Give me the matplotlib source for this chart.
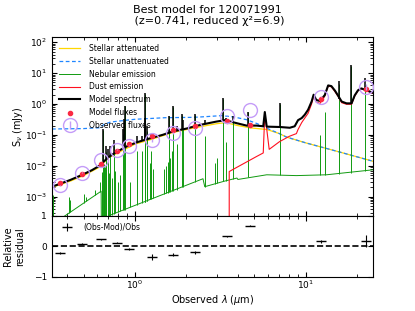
import matplotlib
matplotlib.use("Agg")
import matplotlib.pyplot as plt
import numpy as np

# photometric points (observed frame, micron / mJy)
filter_wl = [0.364, 0.488, 0.636, 0.78, 0.92, 1.25, 1.66, 2.24, 3.44, 4.70, 12.3, 22.6]
obs_flux = [2.3e-3, 6.0e-3, 1.55e-2, 3.3e-2, 4.5e-2, 6.6e-2, 0.115, 0.165, 0.42, 0.65, 1.73, 3.6]
mod_flux = [2.8e-3, 5.5e-3, 1.18e-2, 2.9e-2, 4.9e-2, 8.9e-2, 0.146, 0.198, 0.28, 0.21, 1.44, 3.0]
resid_err = [0.03, 0.02, 0.02, 0.02, 0.02, 0.10, 0.05, 0.05, 0.02, 0.02, 0.05, 0.20]

# stellar unattenuated
unatt_wl = [0.327, 0.5, 0.62, 0.66, 0.72, 0.85, 1.0, 1.5, 2.2, 2.6, 3.2, 3.8, 4.5, 5.2, 5.9, 7.0, 7.7, 10, 15, 24.7]
unatt_f = [0.155, 0.16, 0.17, 0.22, 0.26, 0.29, 0.32, 0.36, 0.37, 0.39, 0.42, 0.38, 0.31, 0.23, 0.165, 0.11, 0.085, 0.055, 0.03, 0.014]

# stellar attenuated
att_wl = [0.327, 0.42, 0.5, 0.62, 0.66, 0.70, 0.8, 1.0, 1.25, 1.67, 2.24, 3.0, 3.4, 4.0, 4.7, 5.5, 5.9, 7.0, 7.7, 10, 15, 24.7]
att_f = [2.0e-3, 3.2e-3, 4.8e-3, 9.0e-3, 1.3e-2, 1.8e-2, 2.7e-2, 5.0e-2, 7.2e-2, 0.12, 0.17, 0.23, 0.25, 0.2, 0.17, 0.155, 0.15, 0.11, 0.085, 0.055, 0.03, 0.014]

# nebular continuum
neb_wl = [0.37, 0.381, 0.634, 0.636, 0.714, 2.5, 2.56, 3.36, 3.95, 4.0, 5.9, 8.8, 13.2, 24.7]
neb_f = [1e-4, 2.2e-4, 1.5e-3, 1.2e-4, 2.5e-4, 3.8e-3, 2.1e-3, 3.2e-3, 4.0e-3, 3.6e-3, 5.1e-3, 4.8e-3, 5.1e-3, 7.4e-3]

# nebular lines: wavelength, base, peak
neb_line_wl = [0.332, 0.410, 0.418, 0.505, 0.52, 0.58, 0.625, 0.638, 0.642, 0.645, 0.649, 0.655, 0.662,
               0.668, 0.674, 0.677, 0.691, 0.705, 0.714, 0.73, 0.756, 0.762, 0.80, 0.815, 0.846, 0.863,
               0.872, 0.94, 1.023, 1.097, 1.14, 1.1426, 1.146, 1.169, 1.172, 1.23, 1.242, 1.27, 1.48,
               1.52, 1.55, 1.579, 1.607, 1.64, 1.659, 1.75, 1.886, 1.905, 2.232, 2.56, 2.93, 3.02,
               3.265, 3.386, 3.771, 4.572, 7.054, 12.16, 12.99, 15.65, 18.3, 22.3]
neb_line_base = [1e-4, 2.9e-4, 3.1e-4, 6.4e-4, 7.3e-4, 1.1e-3, 1.4e-3, 1e-4, 1e-4, 1e-4, 1e-4, 1e-4, 1e-4,
                 1e-4, 1e-4, 1e-4, 1e-4, 1e-4, 1e-4, 2.6e-4, 2.8e-4, 2.9e-4, 3.2e-4, 3.3e-4, 3.6e-4, 3.7e-4,
                 3.8e-4, 4.5e-4, 5.5e-4, 6.3e-4, 6.9e-4, 6.9e-4, 6.9e-4, 7.2e-4, 7.3e-4, 8.1e-4, 8.3e-4, 8.7e-4, 1.2e-3,
                 1.3e-3, 1.35e-3, 1.4e-3, 1.45e-3, 1.5e-3, 1.56e-3, 1.7e-3, 2.1e-3, 2.1e-3, 2.95e-3, 2.1e-3, 2.65e-3, 2.8e-3,
                 3.2e-3, 3.3e-3, 3.8e-3, 4.2e-3, 5e-3, 5e-3, 5.1e-3, 5.5e-3, 6e-3, 7e-3]
neb_line_peak = [1.1e-3, 9.5e-4, 7.5e-4, 1.2e-3, 1.0e-3, 1.6e-3, 3e-3, 4e-3, 5e-3, 6.5e-3, 0.14, 8e-3, 1.1e-2,
                 9e-3, 2.8e-2, 1.3e-2, 1.8e-2, 6e-3, 2.4e-2, 4e-3, 4.5e-2, 7e-3, 3e-3, 5e-3, 0.11, 0.28,
                 0.85, 3e-3, 0.03, 0.03, 0.09, 2.1, 0.28, 0.13, 0.1, 0.012, 0.03, 8e-3, 8e-3,
                 1e-2, 1.3e-2, 0.4, 1.8e-2, 3e-2, 0.8, 0.05, 0.45, 0.15, 0.45, 0.09, 1.2e-2, 1.8e-2,
                 1.5, 0.06, 0.38, 0.55, 1.0, 0.1, 0.55, 4.5, 17, 4]

# dust emission
dust_wl = [3.56, 3.56, 4.1, 5.15, 5.63, 5.75, 6.1, 7.0, 8.0, 8.8, 9.0, 9.45, 9.85, 10.3, 10.8, 11.1, 11.5, 12.1,
           12.9, 13.5, 14.1, 14.8, 15.4, 16.2, 17.3, 18.5, 19.3, 20.2, 21.1, 22.6, 24.7]
dust_f = [1e-6, 6.5e-3, 1.0e-2, 2.0e-2, 2.6e-2, 0.5, 0.034, 0.06, 0.09, 0.11, 0.15, 0.25, 0.35, 0.5, 1.0, 1.8, 1.15, 1.05,
          1.8, 3.8, 3.6, 2.5, 1.8, 1.1, 0.98, 0.98, 1.8, 2.7, 3.1, 2.7, 2.2]

# model spectrum continuum
model_wl = [0.327, 0.364, 0.42, 0.488, 0.56, 0.62, 0.66, 0.70, 0.78, 0.914, 1.05, 1.25, 1.45, 1.67, 2.0, 2.24, 2.5,
            3.0, 3.36, 3.93, 4.5, 5.15, 5.63, 5.75, 5.9, 7.05, 8.05, 8.6, 9.0, 9.45, 9.85, 10.3, 10.8, 11.1, 11.5,
            12.1, 12.9, 13.5, 14.1, 14.8, 15.4, 16.2, 17.3, 18.5, 19.3, 20.2, 21.1, 22.6, 24.7]
model_f = [2.1e-3, 2.6e-3, 3.5e-3, 5.0e-3, 7.2e-3, 1.0e-2, 1.4e-2, 1.9e-2, 2.8e-2, 4.5e-2, 6.0e-2, 8.0e-2, 0.1, 0.13,
           0.16, 0.19, 0.22, 0.27, 0.30, 0.24, 0.2, 0.2, 0.19, 0.55, 0.185, 0.18, 0.17, 0.19, 0.3, 0.35, 0.45, 0.65,
           1.2, 2.0, 1.35, 1.25, 1.95, 4.0, 3.8, 2.7, 1.9, 1.2, 1.05, 1.05, 1.9, 2.8, 3.2, 2.8, 2.3]

# model spectrum lines: wavelength, base, peak
model_line_wl = [0.649, 0.674, 0.691, 0.714, 0.756, 0.846, 0.863, 0.872, 1.023, 1.097, 1.14, 1.1426, 1.146, 1.17,
                 1.242, 1.579, 1.64, 1.659, 1.75, 1.886, 1.905, 2.232, 2.56, 3.265, 3.386, 3.771, 4.572, 7.054,
                 15.65, 18.3, 22.3]
model_line_base = [1.4e-2, 1.6e-2, 1.8e-2, 2.0e-2, 2.5e-2, 3.8e-2, 4.0e-2, 4.1e-2, 5.8e-2, 6.4e-2, 6.8e-2, 6.8e-2,
                   6.8e-2, 7.0e-2, 7.8e-2, 0.12, 0.125, 0.13, 0.14, 0.155, 0.16, 0.19, 0.225, 0.29, 0.3, 0.26, 0.2,
                   0.18, 1.45, 1.05, 2.8]
model_line_peak = [0.16, 0.045, 0.035, 0.045, 0.07, 0.15, 0.32, 0.87, 0.09, 0.09, 0.16, 2.25, 0.35, 0.2,
                   0.11, 0.42, 0.16, 0.85, 0.19, 0.48, 0.3, 0.48, 0.3, 1.55, 0.36, 0.42, 0.55, 1.07,
                   5.5, 18.5, 6.8]

obs = np.array(obs_flux)
mod = np.array(mod_flux)
rerr = np.array(resid_err)
resid = (obs - mod) / obs

xmin, xmax = 0.327, 24.7

fig = plt.figure(figsize=(4.15, 3.11), dpi=100)
ax1 = fig.add_axes([0.1253, 0.3055, 0.7735, 0.5755])
ax2 = fig.add_axes([0.1253, 0.110, 0.7735, 0.1955])

lw = 0.7
ax1.loglog(att_wl, att_f, color='gold', lw=0.9, label='Stellar attenuated')
ax1.loglog(unatt_wl, unatt_f, color='#1f86ff', lw=0.9, ls=(0, (3, 2)), label='Stellar unattenuated')
ax1.loglog(neb_wl, neb_f, color='#109a10', lw=lw, label='Nebular emission')
ax1.vlines(neb_line_wl, neb_line_base, neb_line_peak, color='#109a10', lw=lw)
ax1.loglog(dust_wl, dust_f, color='#ff1020', lw=0.8, label='Dust emission')
ax1.loglog(model_wl, model_f, color='k', lw=1.5, label='Model spectrum')
ax1.vlines(model_line_wl, model_line_base, model_line_peak, color='k', lw=1.1)
ax1.scatter(filter_wl, mod_flux, marker='o', color='xkcd:strawberry', s=9, zorder=3, label='Model fluxes')
ax1.errorbar(filter_wl, obs_flux, yerr=rerr * obs, ls='', marker='o', markersize=10,
             markerfacecolor='none', markeredgecolor='#c49cf8', color='#c49cf8', capsize=0,
             lw=1, zorder=4, label='Observed fluxes')

ax1.set_xlim(xmin, xmax)
ax1.set_ylim(2.36e-4, 148)
ax1.set_ylabel(r'S$_\nu$ (mJy)', fontsize=7)
ax1.yaxis.set_label_coords(-0.085, 0.5)
ax1.tick_params(direction='in', which='both', top=True, right=True, bottom=True, labelsize=6.5)
ax1.tick_params(axis='x', labelbottom=False)
ax1.legend(loc='upper left', fontsize=5.5, frameon=False, handlelength=2.8, handletextpad=1.2)

ax2.errorbar(filter_wl, resid, yerr=rerr, marker='_', markersize=7, color='k', ls='None',
             capsize=0, lw=0.8, label='(Obs-Mod)/Obs')
ax2.plot([xmin, xmax], [0, 0], ls='--', color='k', lw=1.2)
ax2.set_xscale('log')
ax2.set_xlim(xmin, xmax)
ax2.set_ylim(-1, 1)
ax2.set_yticks([-1, 0, 1])
ax2.set_xlabel(r'Observed $\lambda$ ($\mu$m)', fontsize=7, labelpad=1)
ax2.set_ylabel('Relative\nresidual', fontsize=7)
ax2.yaxis.set_label_coords(-0.085, 0.5)
ax2.tick_params(direction='in', which='both', top=True, right=True, labelsize=6.5)
ax2.tick_params(axis='x', pad=1.5)
ax2.legend(loc='upper left', fontsize=5.5, frameon=False, handletextpad=1.2)

fig.suptitle('Best model for 120071991\n (z=0.741, reduced χ²=6.9)', fontsize=8, y=0.985)

plt.savefig('out.png', dpi=100)
